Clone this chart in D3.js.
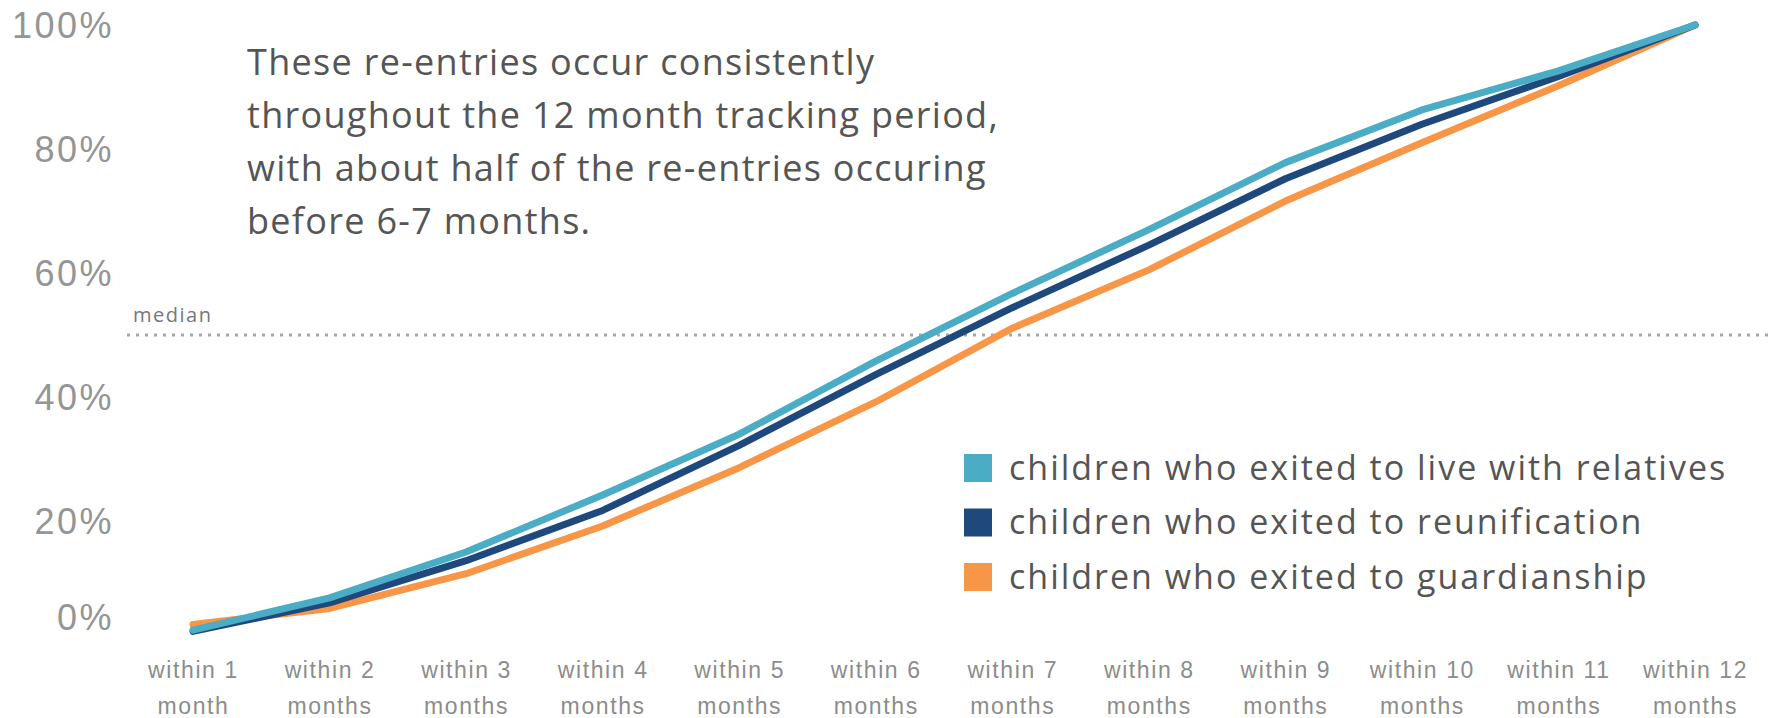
<!DOCTYPE html>
<html>
<head>
<meta charset="utf-8">
<script src="https://cdn.jsdelivr.net/npm/d3@7/dist/d3.min.js"></script>
<style>
  html, body { margin: 0; padding: 0; background: #fff; }
  svg { display: block; font-family: "Open Sans", sans-serif; }
  .yAxis text { fill: #959595; font-size: 36px; letter-spacing: 2.5px; }
  .xAxis text { fill: #8c8c8c; font-size: 23px; letter-spacing: 1.6px; }
  .note { fill: #555; font-size: 36px; letter-spacing: 1.3px; }
  .legendLabel { fill: #555; font-size: 34px; letter-spacing: 2px; }
  .medianLabel { fill: #777; font-size: 20px; letter-spacing: 1.5px; }
</style>
</head>
<body>
<div id="chart"></div>
<script>
// months since exit
var months = ['within 1 month', 'within 2 months', 'within 3 months', 'within 4 months',
  'within 5 months', 'within 6 months', 'within 7 months', 'within 8 months',
  'within 9 months', 'within 10 months', 'within 11 months', 'within 12 months'];

// cumulative share of re-entries, in %
var relatives = [2.4, 7.6, 15.0, 24.2, 34.0, 45.8, 56.7, 67.0, 77.8, 86.3, 92.6, 100];
var reunification = [2.2, 6.8, 13.6, 21.7, 32.2, 43.6, 54.4, 64.5, 75.2, 84.0, 91.7, 100];
var guardianship = [3.3, 5.9, 11.5, 19.2, 28.6, 39.2, 51.1, 60.5, 71.6, 81.0, 90.2, 100];

var seriesNames = ['children who exited to live with relatives',
  'children who exited to reunification',
  'children who exited to guardianship'];
var seriesColors = ['#4BACC6', '#1F497D', '#F79646'];

var yTicks = [0, 20, 40, 60, 80, 100];
var medianValue = 50;

var noteLines = ['These re-entries occur consistently',
  'throughout the 12 month tracking period,',
  'with about half of the re-entries occuring',
  'before 6-7 months.'];

var canvas = { width: 1773, height: 718 };

var svg = d3.select('#chart').append('svg')
  .attr('width', canvas.width)
  .attr('height', canvas.height);

var x = d3.scalePoint()
  .domain(months)
  .range([193, 1695]);

var y = d3.scaleLinear()
  .domain([0, 100])
  .range([645, 25]);

// y axis, labels only
var yAxis = svg.append('g')
  .attr('class', 'yAxis')
  .attr('transform', 'translate(114,0)')
  .call(d3.axisLeft(y).tickValues(yTicks).tickSize(0).tickPadding(0)
    .tickFormat(function (d) { return d + '%'; }));
yAxis.select('.domain').remove();
yAxis.selectAll('text').attr('dy', '0.36em');
// bottom label gets pushed up inside the pane, like the original
yAxis.selectAll('.tick')
  .filter(function (d) { return d === 0; })
  .select('text')
  .attr('y', -28);

// x axis, two-line labels
var xAxis = svg.append('g')
  .attr('class', 'xAxis')
  .attr('transform', 'translate(0,656)')
  .call(d3.axisBottom(x).tickSize(0).tickPadding(0));
xAxis.select('.domain').remove();
xAxis.selectAll('.tick text').each(function (d) {
  var t = d3.select(this);
  var parts = d.split(' ');
  t.text(null).attr('y', 0).attr('dy', null);
  t.append('tspan').attr('x', 0).attr('y', 22).text(parts[0] + ' ' + parts[1]);
  t.append('tspan').attr('x', 0).attr('y', 58).text(parts[2]);
});

// median reference line
svg.append('line')
  .attr('x1', 127)
  .attr('x2', canvas.width)
  .attr('y1', y(medianValue))
  .attr('y2', y(medianValue))
  .attr('stroke', '#a6a6a6')
  .attr('stroke-width', 3)
  .attr('stroke-dasharray', '3,6');
svg.append('text')
  .attr('class', 'medianLabel')
  .attr('x', 133)
  .attr('y', y(medianValue) - 13)
  .text('median');

// annotation
var note = svg.append('text')
  .attr('class', 'note')
  .attr('x', 247)
  .attr('y', 75);
noteLines.forEach(function (line, i) {
  note.append('tspan')
    .attr('x', 247)
    .attr('y', 75 + i * 53)
    .text(line);
});

// lines
var line = d3.line()
  .x(function (d, i) { return x(months[i]); })
  .y(function (d) { return y(d); });

var series = [relatives, reunification, guardianship];
[2, 1, 0].forEach(function (k) {
  svg.append('path')
    .datum(series[k])
    .attr('fill', 'none')
    .attr('stroke', seriesColors[k])
    .attr('stroke-width', 7)
    .attr('stroke-linecap', 'round')
    .attr('stroke-linejoin', 'round')
    .attr('d', line);
});

// legend
var legend = svg.append('g')
  .attr('transform', 'translate(964,454)');
seriesNames.forEach(function (name, i) {
  var row = legend.append('g')
    .attr('transform', 'translate(0,' + (i * 54.5) + ')');
  row.append('rect')
    .attr('width', 28)
    .attr('height', 28)
    .attr('fill', seriesColors[i]);
  row.append('text')
    .attr('class', 'legendLabel')
    .attr('x', 45)
    .attr('y', 14)
    .attr('dy', '0.35em')
    .text(name);
});
</script>
</body>
</html>
